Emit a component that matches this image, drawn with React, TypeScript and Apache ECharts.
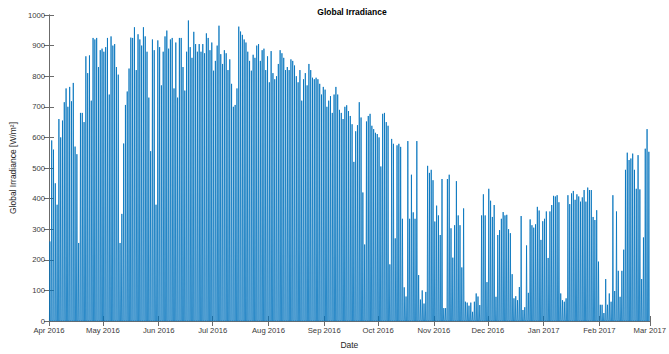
import React, { useEffect, useRef } from "react";
import * as echarts from "echarts";

// Month tick positions (days since 1 Apr 2016) and their labels
const monthStartDay = [0, 30, 61, 91, 122, 153, 183, 214, 244, 275, 306, 334];
const monthLabels = [
  "Apr 2016", "May 2016", "Jun 2016", "Jul 2016", "Aug 2016", "Sep 2016",
  "Oct 2016", "Nov 2016", "Dec 2016", "Jan 2017", "Feb 2017", "Mar 2017",
];

// Daily peak global irradiance [W/m²]
const apr2016 = [260, 590, 560, 450, 380, 660, 600, 655, 715, 760, 700, 765, 718, 778, 570, 545, 255, 680, 680, 650, 865, 810, 868, 720, 925, 920, 925, 830, 885, 890];
const may2016 = [880, 895, 925, 740, 930, 900, 905, 830, 805, 255, 350, 580, 706, 750, 825, 926, 925, 960, 820, 937, 920, 900, 960, 930, 880, 730, 555, 920, 885, 380, 917];
const jun2016 = [895, 770, 880, 930, 949, 890, 920, 925, 760, 910, 730, 925, 925, 830, 753, 880, 982, 895, 860, 945, 905, 880, 905, 880, 905, 875, 940, 925, 885, 910];
const jul2016 = [818, 850, 900, 965, 872, 840, 885, 875, 820, 855, 775, 700, 706, 760, 962, 946, 935, 920, 910, 880, 850, 818, 870, 860, 900, 905, 850, 885, 890, 820, 865];
const aug2016 = [780, 882, 810, 790, 800, 840, 885, 875, 860, 820, 830, 820, 855, 850, 835, 800, 780, 820, 720, 790, 810, 770, 840, 820, 795, 790, 795, 790, 775, 740, 765];
const sep2016 = [756, 700, 720, 735, 680, 740, 765, 740, 690, 680, 660, 700, 705, 686, 670, 643, 520, 620, 640, 715, 665, 420, 250, 652, 670, 677, 638, 627, 615, 611];
const oct2016 = [600, 505, 677, 680, 650, 638, 185, 595, 579, 270, 574, 579, 569, 334, 110, 80, 588, 334, 478, 355, 334, 588, 150, 70, 100, 57, 95, 507, 484, 494, 460];
const nov2016 = [325, 377, 345, 281, 464, 42, 42, 464, 478, 303, 207, 313, 457, 345, 313, 175, 368, 63, 60, 50, 60, 30, 63, 90, 80, 52, 345, 414, 345, 127];
const dec2016 = [432, 393, 340, 379, 79, 281, 297, 334, 356, 345, 347, 300, 287, 153, 74, 81, 68, 111, 343, 36, 45, 247, 92, 332, 313, 305, 316, 373, 361, 265, 326];
const jan2017 = [334, 358, 206, 358, 379, 409, 407, 411, 388, 90, 68, 63, 74, 411, 382, 417, 425, 396, 414, 407, 390, 404, 428, 390, 436, 428, 428, 340, 330, 362, 194];
const feb2017 = [53, 53, 26, 137, 53, 90, 63, 411, 98, 358, 164, 79, 164, 233, 494, 550, 526, 531, 547, 494, 432, 542, 430, 137, 273, 563, 627, 553];

const dailyPeaks = [
  ...apr2016, ...may2016, ...jun2016, ...jul2016, ...aug2016, ...sep2016,
  ...oct2016, ...nov2016, ...dec2016, ...jan2017, ...feb2017,
];

// each day: dark at night (0), daily peak around noon
const seriesData: [number, number][] = [];
dailyPeaks.forEach((p, i) => {
  seriesData.push([i + 0.25, 0], [i + 0.5, p], [i + 0.75, 0]);
});

const FONT = "'Liberation Sans', Arial, Helvetica, sans-serif";
const AXIS_COLOR = "#6b6b6b";
const LABEL_COLOR = "#3a3a3a";

export default function App() {
  const ref = useRef<HTMLDivElement>(null);
  useEffect(() => {
    if (!ref.current) return;
    const chart = echarts.init(ref.current, undefined, { renderer: "svg" });
    const tickCommon = { show: true, inside: true, length: 5, lineStyle: { color: AXIS_COLOR, width: 1 } };
    chart.setOption({
      animation: false,
      backgroundColor: "#ffffff",
      title: {
        text: "Global Irradiance",
        left: 347,
        textAlign: "center",
        top: 2,
        textStyle: { fontFamily: FONT, fontSize: 8.5, fontWeight: "bold", color: "#000" },
      },
      grid: { left: 39, right: 14, top: 15, bottom: 26, containLabel: false },
      xAxis: [
        {
          type: "value",
          min: 0,
          max: 334,
          position: "bottom",
          name: "Date",
          nameLocation: "middle",
          nameGap: 19,
          nameTextStyle: { fontFamily: FONT, fontSize: 8.5, color: "#262626" },
          axisLine: { show: true, lineStyle: { color: AXIS_COLOR, width: 1 } },
          axisTick: { ...tickCommon, customValues: monthStartDay },
          axisLabel: {
            customValues: monthStartDay,
            formatter: (v: number) => monthLabels[monthStartDay.indexOf(Math.round(v))] || "",
            fontFamily: FONT,
            fontSize: 7.7,
            color: LABEL_COLOR,
            margin: 5,
            showMaxLabel: true,
            showMinLabel: true,
            hideOverlap: false,
          },
          splitLine: { show: false },
        },
        {
          type: "value",
          min: 0,
          max: 334,
          position: "top",
          axisLine: { show: true, lineStyle: { color: AXIS_COLOR, width: 1 } },
          axisTick: { ...tickCommon, customValues: monthStartDay },
          axisLabel: { show: false },
          splitLine: { show: false },
        },
      ],
      yAxis: [
        {
          type: "value",
          min: 0,
          max: 1000,
          interval: 100,
          position: "left",
          name: "Global Irradiance [W/m²]",
          nameLocation: "middle",
          nameGap: 28,
          nameRotate: 90,
          nameTextStyle: { fontFamily: FONT, fontSize: 8.5, color: "#262626" },
          axisLine: { show: true, lineStyle: { color: AXIS_COLOR, width: 1 } },
          axisTick: tickCommon,
          axisLabel: {
            fontFamily: FONT,
            fontSize: 7.7,
            color: LABEL_COLOR,
            margin: 4,
            formatter: (v: number) => String(v),
          },
          splitLine: { show: false },
        },
        {
          type: "value",
          min: 0,
          max: 1000,
          interval: 100,
          position: "right",
          axisLine: { show: true, lineStyle: { color: AXIS_COLOR, width: 1 } },
          axisTick: tickCommon,
          axisLabel: { show: false },
          splitLine: { show: false },
        },
      ],
      series: [
        {
          type: "line",
          xAxisIndex: 0,
          yAxisIndex: 0,
          data: seriesData,
          showSymbol: false,
          symbol: "none",
          lineStyle: { color: "#0072BD", width: 0.8 },
          itemStyle: { color: "#0072BD" },
          clip: true,
        },
      ],
    });
    return () => chart.dispose();
  }, []);
  return (
    <div
      ref={ref}
      style={{ position: "absolute", left: 0, top: 0, width: 669, height: 354 }}
    />
  );
}
